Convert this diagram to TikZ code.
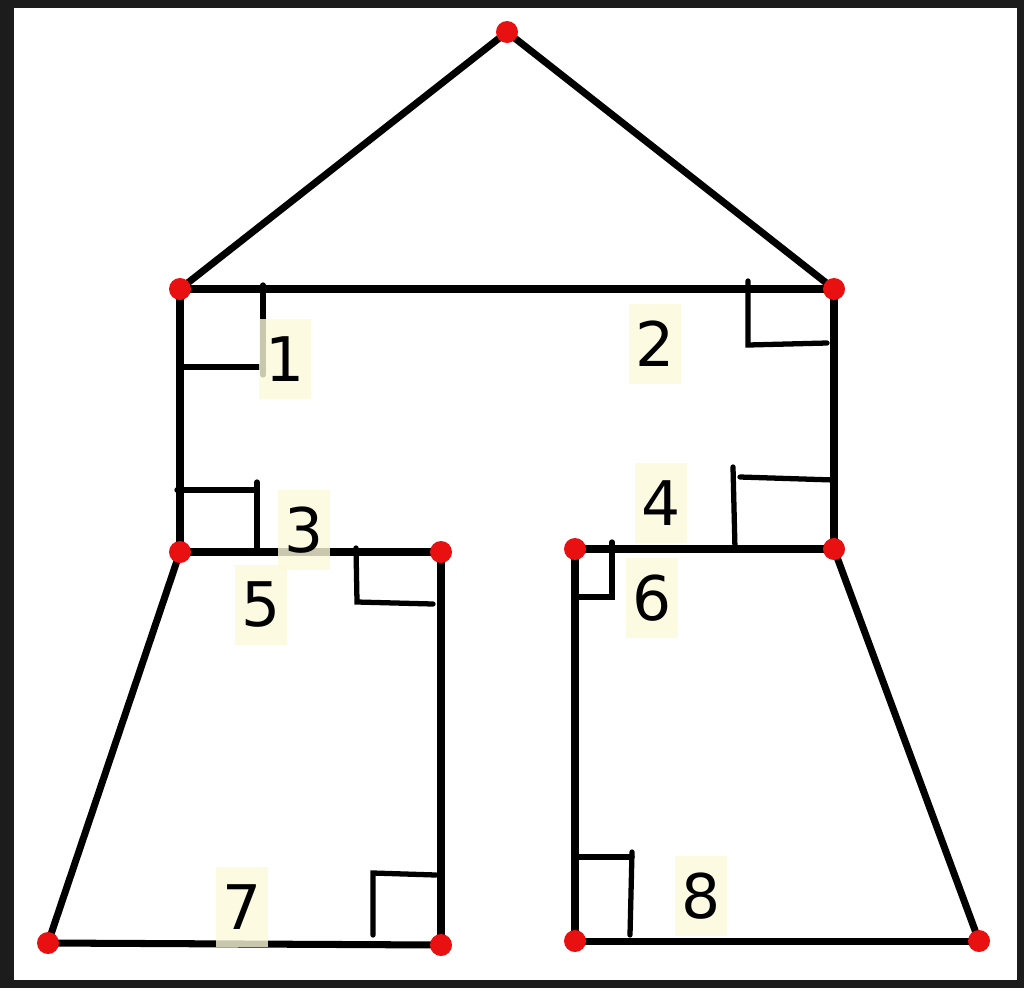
\documentclass[tikz,border=0pt]{standalone}
\usepackage{fontspec}
\setmainfont{DejaVu Sans}
\usetikzlibrary{arrows.meta}
\usetikzlibrary{shapes}

\definecolor{labelbg}{RGB}{252,250,218}
\definecolor{framegray}{RGB}{28,28,28}
\definecolor{dotred}{RGB}{232,16,16}

\begin{document}
\begin{tikzpicture}[x=0.02cm, y=-0.02cm,
    edge/.style={line width=4pt, line cap=round},
    anglemark/.style={line width=3pt, line cap=round, line join=miter},
    dot/.style={circle, fill=dotred, inner sep=0pt, minimum size=0.44cm},
    num/.style={fill=labelbg, fill opacity=0.8, text opacity=1, inner sep=0pt,
        minimum width=1.04cm, minimum height=1.6cm, font=\fontsize{35}{40}\selectfont}]

    % Declare the frame
    \fill[framegray] (0, 0) rectangle (1024, 988);
    \fill[white] (14, 8) rectangle (1017, 980);

    % Declare the points
    \coordinate (A) at (507, 32);
    \coordinate (B) at (180, 289);
    \coordinate (C) at (834, 289);
    \coordinate (D) at (180, 552);
    \coordinate (E) at (441, 552);
    \coordinate (F) at (575, 549);
    \coordinate (G) at (834, 549);
    \coordinate (H) at (48, 943);
    \coordinate (I) at (441, 945);
    \coordinate (J) at (575, 941);
    \coordinate (K) at (979, 941);

    % Declare edges
    \draw[edge] (A) -- (B);
    \draw[edge] (A) -- (C);
    \draw[edge] (B) -- (C);
    \draw[edge] (B) -- (D);
    \draw[edge] (C) -- (G);
    \draw[edge] (D) -- (E);
    \draw[edge] (F) -- (G);
    \draw[edge] (D) -- (H);
    \draw[edge] (E) -- (I);
    \draw[edge] (H) -- (I);
    \draw[edge] (F) -- (J);
    \draw[edge] (G) -- (K);
    \draw[edge] (J) -- (K);

    % Declare right angle marks
    \draw[anglemark] (263, 285) -- (263, 375);
    \draw[anglemark] (180, 367) -- (263, 367);
    \draw[anglemark] (748, 281) -- (748, 345) -- (827, 343);
    \draw[anglemark] (177, 490) -- (257, 490);
    \draw[anglemark] (257, 482) -- (257, 552);
    \draw[anglemark] (740, 477) -- (834, 480);
    \draw[anglemark] (733, 467) -- (735, 549);
    \draw[anglemark] (356, 548) -- (357, 602) -- (433, 604);
    \draw[anglemark] (612, 542) -- (612, 597) -- (575, 597);
    \draw[anglemark] (373, 935) -- (373, 873) -- (436, 875);
    \draw[anglemark] (575, 857) -- (632, 857);
    \draw[anglemark] (632, 852) -- (630, 935);

    % Declare the dots
    \foreach \p in {A, B, C, D, E, F, G, H, I, J, K}
        \node[dot] (dot\p) at (\p) {};

    % Declare the numbers
    \node[num] at (285, 359) (n1) {1};
    \node[num] at (655, 344) (n2) {2};
    \node[num] at (304, 530) (n3) {3};
    \node[num] at (661, 503) (n4) {4};
    \node[num] at (261, 605) (n5) {5};
    \node[num] at (652, 598) (n6) {6};
    \node[num] at (242, 907) (n7) {7};
    \node[num] at (701, 896) (n8) {8};

\end{tikzpicture}
\end{document}
